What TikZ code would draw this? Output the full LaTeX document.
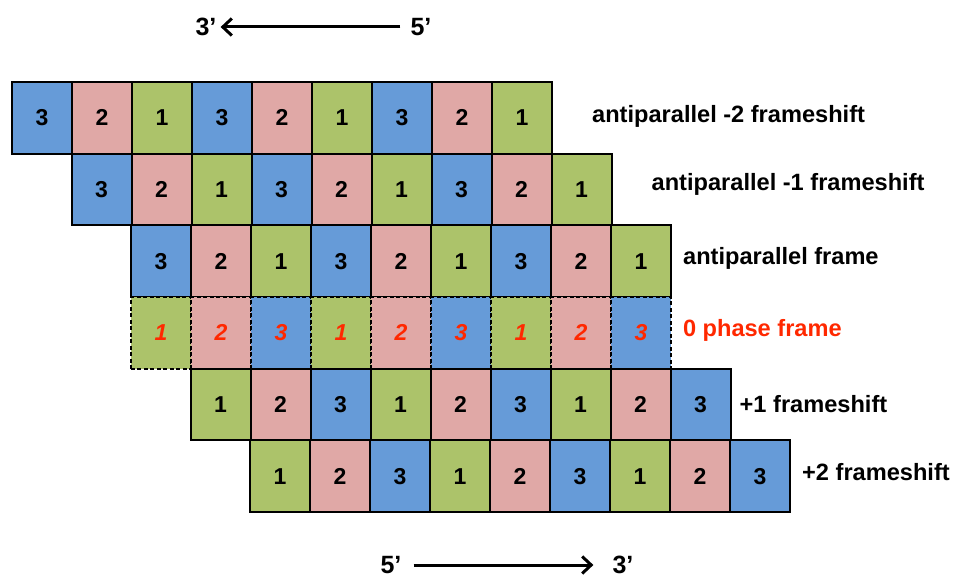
\documentclass[tikz,border=0pt]{standalone}
\usepackage{fontspec}
\setmainfont{Liberation Sans}
\usetikzlibrary{arrows.meta,positioning}
\definecolor{bleu}{RGB}{102,155,216}
\definecolor{rose}{RGB}{224,168,166}
\definecolor{vert}{RGB}{172,195,106}
\definecolor{rouge}{RGB}{255,40,0}

\begin{document}
\begin{tikzpicture}[x=1pt, y=-1pt, font=\bfseries\fontsize{23}{26}\selectfont,
  boite/.style={draw=black, line width=2pt, minimum width=60pt, minimum height=71.7pt, inner sep=0pt, anchor=north west},
  teinte1/.style={fill=vert}, teinte2/.style={fill=rose}, teinte3/.style={fill=bleu},
  pointille/.style={dash pattern=on 4pt off 2.5pt, line width=1.8pt, text=rouge, font=\bfseries\itshape\fontsize{23}{26}\selectfont},
  legende/.style={font=\bfseries\fontsize{23.6}{28}\selectfont, inner sep=0pt},
  extremite/.style={font=\bfseries\fontsize{25}{28}\selectfont, inner sep=1pt},
  fleche/.style={-{Straight Barb[length=9pt, width=17pt]}, line width=3pt}]
\useasboundingbox (0,0) rectangle (954,577);
% brins antiparalleles
\foreach \l/\x in {1/11, 2/70.5, 3/130}
  \foreach \d [count=\i] in {3,2,1,3,2,1,3,2,1}
    \node[boite, teinte\d] (l\l c\i) at ({\x+60*(\i-1)}, {81+71.7*(\l-1)}) {\d};
% cadre de phase 0
\foreach \d [count=\i] in {1,2,3,1,2,3,1,2,3}
  \node[boite, teinte\d, pointille] (l4c\i) at ({130+60*(\i-1)}, {81+71.7*3}) {\d};
% decalages +1 et +2
\foreach \l/\x in {5/189.5, 6/249}
  \foreach \d [count=\i] in {1,2,3,1,2,3,1,2,3}
    \node[boite, teinte\d] (l\l c\i) at ({\x+60*(\i-1)}, {81+71.7*(\l-1)}) {\d};
\node[legende, right=39pt of l1c9, yshift=1pt] (t1) {antiparallel -2 frameshift};
\node[legende, right=39pt of l2c9, yshift=5pt] (t2) {antiparallel -1 frameshift};
\node[legende, right=11pt of l3c9, yshift=3pt] (t3) {antiparallel frame};
\node[legende, right=11pt of l4c9, yshift=2pt, text=rouge] (t4) {0 phase frame};
\node[legende, right=8pt of l5c9, yshift=1pt] (t5) {+1 frameshift};
\node[legende, right=11pt of l6c9, yshift=4pt] (t6) {+2 frameshift};
% sens des brins
\node[extremite] (h3) at (206,27) {3’};
\node[extremite] (h5) at (421,27) {5’};
\draw[fleche, shorten <=9pt, shorten >=3pt] (h5) -- (h3);
\node[extremite] (b5) at (391,565) {5’};
\node[extremite] (b3) at (623,565) {3’};
\draw[fleche, shorten <=11pt, shorten >=18pt] (b5) -- (b3);
\end{tikzpicture}
\end{document}
